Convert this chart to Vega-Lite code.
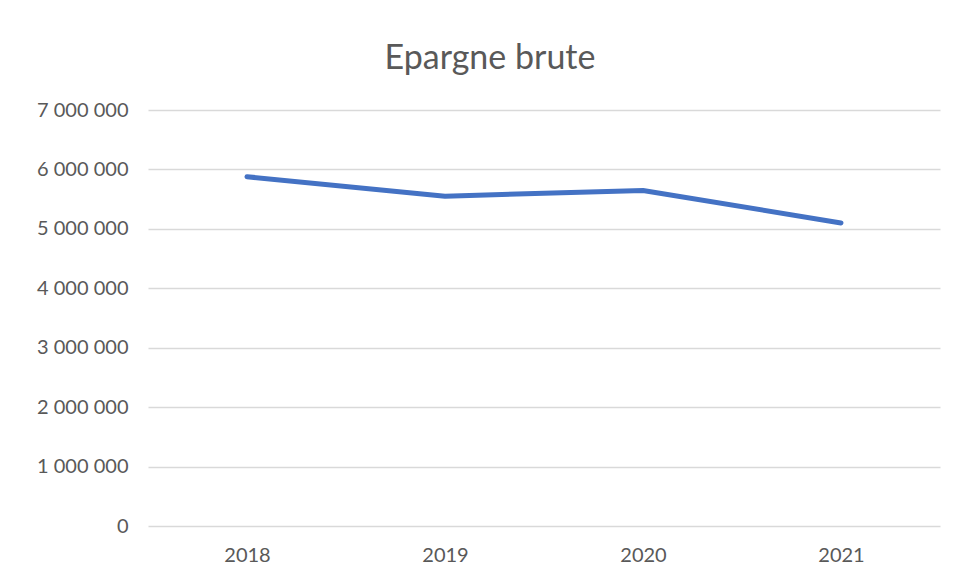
{
  "$schema": "https://vega.github.io/schema/vega-lite/v6.json",
  "width": 792,
  "height": 416,
  "autosize": "none",
  "padding": {"left": 148, "top": 110, "right": 17, "bottom": 56},
  "background": "white",
  "config": {
    "locale": {"number": {"decimal": ",", "thousands": " ", "grouping": [3], "currency": ["", " €"]}},
    "view": {"stroke": null},
    "font": "Lato"
  },
  "title": {
    "text": "Epargne brute",
    "anchor": "middle",
    "dx": -54,
    "offset": 24,
    "fontSize": 34,
    "font": "Lato",
    "fontWeight": "normal",
    "color": "#595959"
  },
  "data": {
    "values": [
      {"year": "2018", "value": 5877000},
      {"year": "2019", "value": 5550000},
      {"year": "2020", "value": 5646000},
      {"year": "2021", "value": 5100000}
    ]
  },
  "mark": {"type": "line", "color": "#4472C4", "strokeWidth": 5, "strokeCap": "round", "strokeJoin": "round"},
  "encoding": {
    "x": {
      "field": "year",
      "type": "ordinal",
      "scale": {"type": "point", "padding": 0.5},
      "axis": {"title": null, "labelAngle": 0, "ticks": false, "domain": false, "labelPadding": 19, "labelFontSize": 20, "labelColor": "#595959", "grid": false}
    },
    "y": {
      "field": "value",
      "type": "quantitative",
      "scale": {"domain": [0, 7000000]},
      "axis": {"title": null, "values": [0,1000000,2000000,3000000,4000000,5000000,6000000,7000000], "format": ",d", "labelOverlap": false, "ticks": false, "domain": false, "labelPadding": 20, "labelFontSize": 20, "labelColor": "#595959", "gridColor": "#d9d9d9", "gridWidth": 1.5}
    }
  }
}
